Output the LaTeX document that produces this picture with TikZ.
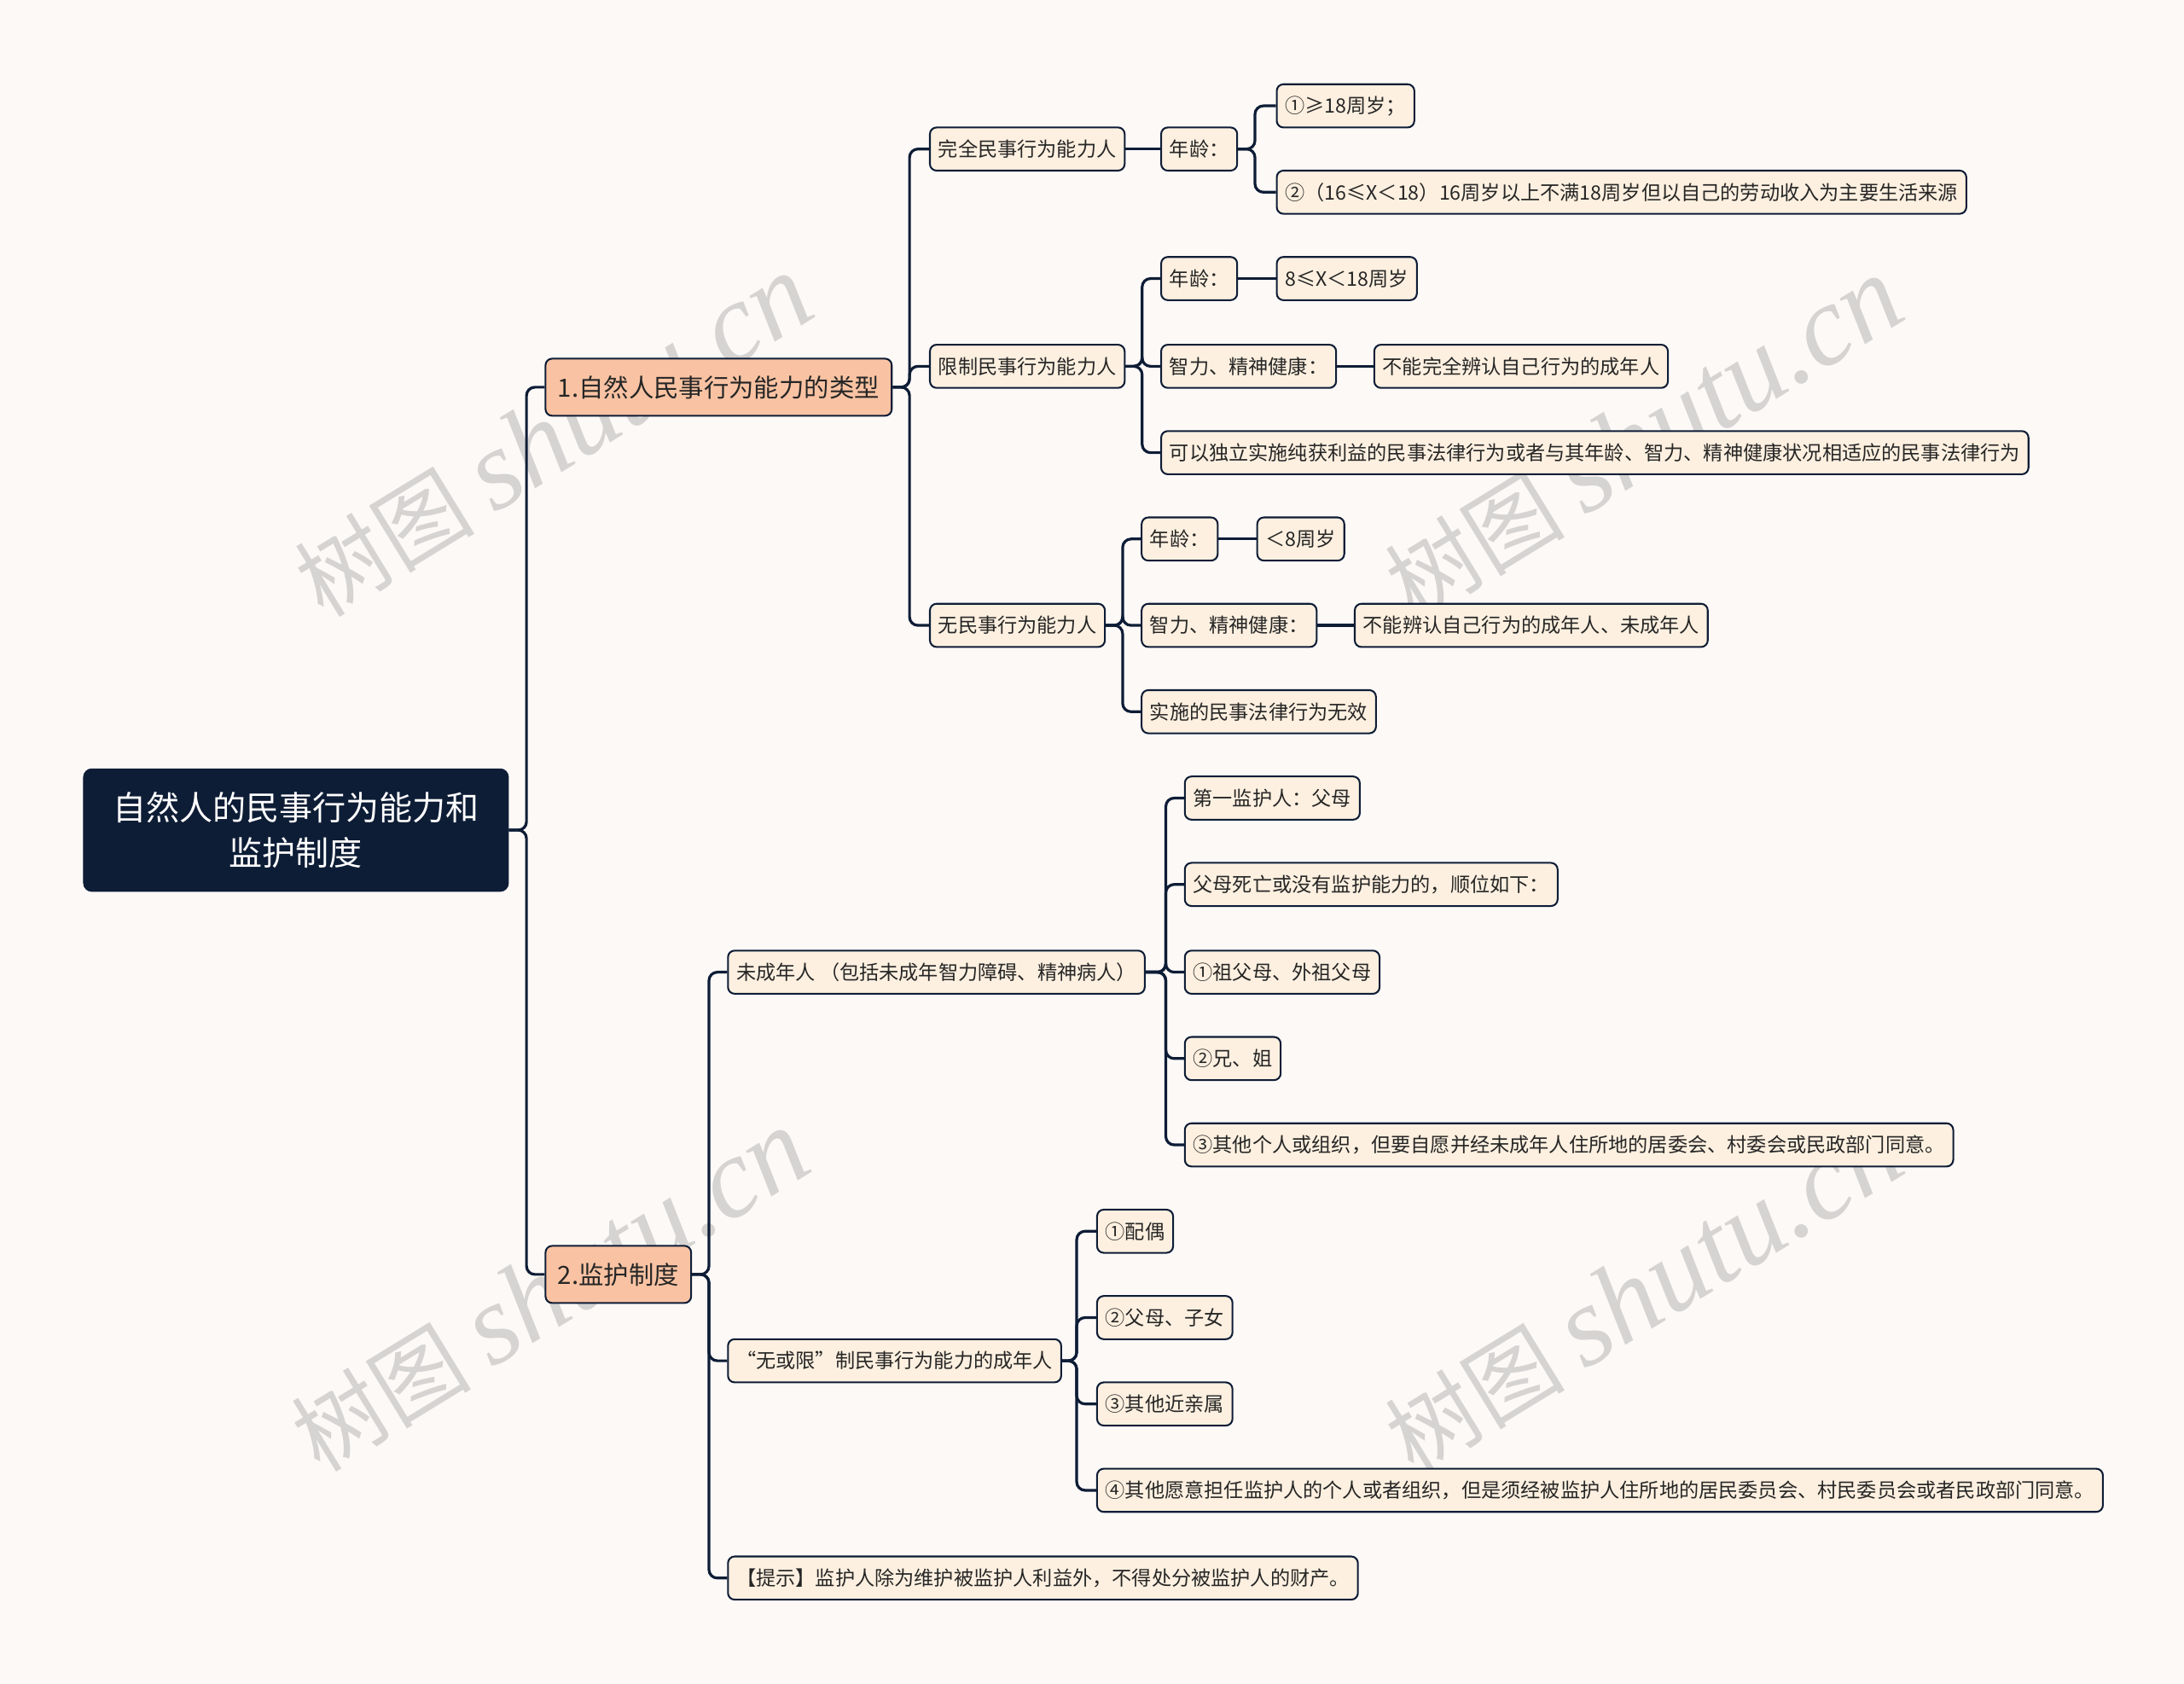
\documentclass[tikz,border=0pt]{standalone}
\usepackage{fontspec}
\setmainfont{Noto Sans CJK SC}
\newfontfamily\wmlatin{Liberation Serif}
\definecolor{paper}{HTML}{FDF9F7}
\definecolor{navy}{HTML}{0E1D36}
\definecolor{cream}{HTML}{FDF0E0}
\definecolor{salmon}{HTML}{F9C3A3}
\definecolor{wmgray}{HTML}{D6D4D3}
\tikzset{
  leaf/.style={draw=navy, fill=cream, line width=0.9pt, rounded corners=0.12cm,
    anchor=west, minimum height=0.775cm, inner xsep=0.15cm, inner ysep=0pt,
    text=black!85, font=\fontsize{10.1}{12}\selectfont},
  topic/.style={leaf, fill=salmon, minimum height=1.025cm, inner xsep=0.22cm,
    font=\fontsize{12.8}{15}\selectfont},
  rootbox/.style={draw=navy, fill=navy, rounded corners=0.15cm, text=white,
    minimum width=7.625cm, minimum height=2.2cm, align=center,
    font=\fontsize{17}{22.8}\selectfont},
  link/.style={draw=navy, line width=1.4pt, rounded corners=0.15cm},
  wmark/.style={text=wmgray, rotate=31.5, font=\fontsize{46}{50}\selectfont}
}
\begin{document}
\begin{tikzpicture}[x=0.025cm, y=-0.025cm]
\useasboundingbox (0,0) rectangle (1568,1209);
\fill[paper] (0,0) rectangle (1568,1209);
% watermarks
\foreach \wx/\wy in {397/313, 1180/315, 395/927, 1180/928}
{
  \node[wmark] at (\wx,\wy) {树图 {\wmlatin\itshape\fontsize{58}{60}\selectfont shutu.cn}};
}
% root and topics
\node[rootbox] (root) at (212.5,596) {自然人的民事行为能力和\\监护制度};
\node[topic] (types) at (391,278) {1.自然人民事行为能力的类型};
\node[topic] (guard) at (391,915) {2.监护制度};
\foreach \c in {types,guard}
{
  \draw[link] (root.east) -| ([xshift=-0.325cm]\c.west) -- (\c.west);
}
% 1. types
\node[leaf] (full) at (667,107) {完全民事行为能力人};
\node[leaf] (limited) at (667,263) {限制民事行为能力人};
\node[leaf] (none) at (667,449) {无民事行为能力人};
\foreach \c in {full,limited,none}
{
  \draw[link] (types.east) -| ([xshift=-0.35cm]\c.west) -- (\c.west);
}
% full capacity
\node[leaf] (fullage) at (833,107) {年龄：};
\draw[link] (full.east) -- (fullage.west);
\node[leaf] (fullA) at (916,76) {①≥18周岁；};
\node[leaf] (fullB) at (916,138) {②（16≤X＜18）16周岁以上不满18周岁但以自己的劳动收入为主要生活来源};
\foreach \c in {fullA,fullB}
{
  \draw[link] (fullage.east) -| ([xshift=-0.375cm]\c.west) -- (\c.west);
}
% limited capacity
\node[leaf] (limage) at (833,200) {年龄：};
\node[leaf] (limageval) at (916,200) {8≤X＜18周岁};
\node[leaf] (limmind) at (833,263) {智力、精神健康：};
\node[leaf] (limmindval) at (986,263) {不能完全辨认自己行为的成年人};
\node[leaf] (limact) at (833,325) {可以独立实施纯获利益的民事法律行为或者与其年龄、智力、精神健康状况相适应的民事法律行为};
\foreach \c in {limage,limmind,limact}
{
  \draw[link] (limited.east) -| ([xshift=-0.325cm]\c.west) -- (\c.west);
}
\draw[link] (limage.east) -- (limageval.west);
\draw[link] (limmind.east) -- (limmindval.west);
% no capacity
\node[leaf] (noneage) at (819,387) {年龄：};
\node[leaf] (noneageval) at (902,387) {＜8周岁};
\node[leaf] (nonemind) at (819,449) {智力、精神健康：};
\node[leaf] (nonemindval) at (972,449) {不能辨认自己行为的成年人、未成年人};
\node[leaf] (noneact) at (819,511) {实施的民事法律行为无效};
\foreach \c in {noneage,nonemind,noneact}
{
  \draw[link] (none.east) -| ([xshift=-0.325cm]\c.west) -- (\c.west);
}
\draw[link] (noneage.east) -- (noneageval.west);
\draw[link] (nonemind.east) -- (nonemindval.west);
% 2. guardianship
\node[leaf] (minor) at (522,698) {未成年人 （包括未成年智力障碍、精神病人）};
\node[leaf] (adult) at (522,977) {“无或限”制民事行为能力的成年人};
\node[leaf] (hint) at (522,1133) {【提示】监护人除为维护被监护人利益外，不得处分被监护人的财产。};
\foreach \c in {minor,adult,hint}
{
  \draw[link] (guard.east) -| ([xshift=-0.325cm]\c.west) -- (\c.west);
}
\foreach \n/\y/\t in {mA/573/{第一监护人：父母}, mB/635/{父母死亡或没有监护能力的，顺位如下：}, mC/698/{①祖父母、外祖父母}, mD/760/{②兄、姐}, mE/822/{③其他个人或组织，但要自愿并经未成年人住所地的居委会、村委会或民政部门同意。}}
{
  \node[leaf] (\n) at (850,\y) {\t};
  \draw[link] (minor.east) -| ([xshift=-0.325cm]\n.west) -- (\n.west);
}
\foreach \n/\y/\t in {aA/884/{①配偶}, aB/946/{②父母、子女}, aC/1008/{③其他近亲属}, aD/1070/{④其他愿意担任监护人的个人或者组织，但是须经被监护人住所地的居民委员会、村民委员会或者民政部门同意。}}
{
  \node[leaf] (\n) at (787,\y) {\t};
  \draw[link] (adult.east) -| ([xshift=-0.35cm]\n.west) -- (\n.west);
}
\end{tikzpicture}
\end{document}
